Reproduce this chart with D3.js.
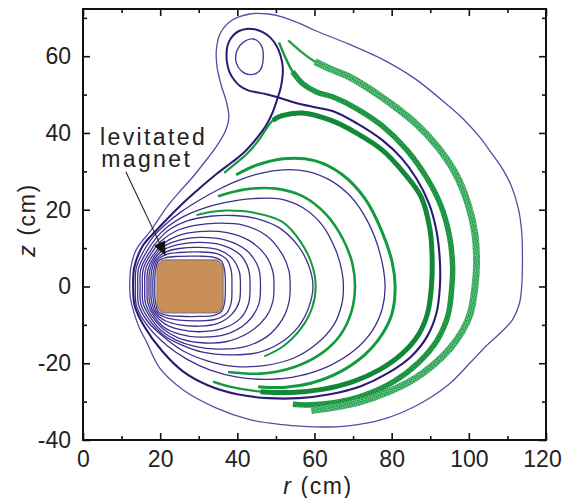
<!DOCTYPE html>
<html>
<head>
<meta charset="utf-8">
<script src="https://cdn.jsdelivr.net/npm/d3@7"></script>
<style>
  body { margin: 0; background: #fff; }
  svg { display: block; }
  text { font-family: "Liberation Sans", Arial, sans-serif; fill: #222; }
</style>
</head>
<body>
<svg id="chart" width="564" height="498"></svg>
<script>
// ---- axis ticks (cm) ----
const rMajorTicks = [0, 20, 40, 60, 80, 100, 120];
const rMinorTicks = [10, 30, 50, 70, 90, 110];
const zMajorTicks = [-40, -20, 0, 20, 40, 60];
const zMinorTicks = [-30, -10, 10, 30, 50, 70];

// ---- levitated magnet cross-section (r, z extents in cm) ----
const magnetR = [19.2, 36.3];
const magnetZ = [-6.9, 6.9];

// ---- closed flux surfaces around the magnet, [r, z] in cm ----
const surface1 = [[18.6,0],[18.75,3.8],[19.53,6.57],[21.5,7.55],[25,7.85],[30,7.9],[34,7.6],[35.9,6.6],[36.7,4.2],[36.9,0],[36.7,-4.2],[35.9,-6.5],[34,-7.5],[30,-7.8],[25,-7.75],[21.5,-7.45],[19.53,-6.57],[18.75,-3.8]];
const surface2 = [[18.1,0],[18.3,4.0],[19.25,6.85],[21.5,8.3],[25,8.85],[30,9.0],[34.5,8.6],[37.2,7.1],[38.4,4.2],[38.6,0],[38.4,-4.2],[37.2,-7.0],[34.5,-8.5],[30,-8.95],[25,-8.75],[21.5,-8.1],[19.25,-6.85],[18.3,-4.0]];
const surface3 = [[17.6,0],[17.8,4.1],[18.97,7.13],[21.5,9.0],[25,9.9],[30,10.2],[35,9.6],[38.6,7.4],[40.5,3.9],[40.8,0],[40.5,-3.9],[38.6,-7.2],[35,-9.6],[30,-10.35],[25,-10.0],[21.5,-9.0],[18.97,-7.13],[17.8,-4.1]];
const surface4 = [[17.1,0],[17.3,4.2],[18.68,7.42],[21.3,9.8],[25,11.0],[30,11.5],[36,10.8],[40.8,8.2],[42.9,4.5],[43.3,0],[42.9,-4.5],[40.8,-8.3],[36,-11.0],[30,-11.8],[25,-11.2],[21.3,-9.8],[18.68,-7.42],[17.3,-4.2]];
const surface5 = [[16.6,0],[16.8,4.3],[18.4,7.7],[21,10.5],[25,12.1],[30,12.8],[37,12.1],[42.5,9.3],[45.5,4.8],[46,0],[45.5,-4.8],[42.5,-9.4],[37,-12.5],[30,-13.2],[25,-12.4],[21,-10.6],[18.4,-7.7],[16.8,-4.3]];
const surface6 = [[16.0,0],[16.2,4.4],[18.05,8.05],[20.7,11.1],[24.5,13.2],[30,14.3],[37,14.1],[43,12.0],[47.4,8.0],[49.2,3.9],[49.5,0],[49.2,-3.9],[47.4,-8.0],[43,-12.0],[37,-14.4],[30,-14.6],[24.5,-13.3],[20.7,-11.0],[18.05,-8.05],[16.2,-4.4]];
const surface7 = [[15.4,0],[15.6,4.5],[17.62,8.48],[20.2,11.8],[24,14.4],[29,15.9],[35,16.5],[41.5,16.0],[47.5,13.3],[51.7,8.3],[53.4,4],[53.7,0],[53.4,-4],[51.7,-8.5],[47.5,-13.2],[41.5,-15.8],[35,-16.3],[29,-15.6],[24,-13.9],[20.2,-11.4],[17.69,-8.41],[15.6,-4.5]];
const surface8 = [[14.8,0],[15.0,4.6],[17.2,8.9],[19.6,12.2],[22.5,14.9],[27,17.1],[33,18.3],[39,18.5],[45,17.7],[51,15.2],[55.8,10.5],[58.6,5.2],[59.6,0],[58.6,-5.2],[55.8,-10.5],[51,-14.8],[45,-17.3],[38,-17.8],[31,-17.1],[25.5,-15.2],[21.2,-12.9],[17.27,-8.83],[15.0,-4.6]];
const surface9 = [[14.2,0],[14.4,4.7],[16.7,9.4],[19.1,12.8],[22,15.6],[26,18.2],[31,20.3],[37,21.9],[44,22.9],[51,22.8],[57,20.5],[62,16],[65.5,9.5],[67.1,4],[67.5,0],[67.1,-4.5],[65,-10],[60.5,-15],[54.5,-18.7],[47,-20.6],[39,-20.8],[32,-19.3],[26,-16.8],[21.5,-13.6],[16.85,-9.25],[14.4,-4.7]];
const surface10 = [[13.6,0],[13.8,4.8],[16.14,9.96],[18.5,13.3],[21.5,16.3],[25.5,19.5],[30,22.4],[35,25.2],[40,27.5],[46,29.5],[52,30.4],[58,30.0],[64,27.7],[69.5,23.3],[74,16.5],[77,8.5],[78.3,0],[77.5,-6],[75,-11.5],[70.5,-16.5],[64,-20.6],[56,-23.3],[48,-24.2],[40,-23.6],[33,-21.8],[27,-19.0],[22,-15.6],[16.35,-9.75],[13.8,-4.8]];
const outerSurface = [[12.1,0],[12.5,5.5],[13.8,9.6],[15.4,11.9],[17.3,14.2],[19.8,17.9],[22.5,21.7],[25.5,25.2],[28.5,28.6],[31.6,32.5],[34.6,36.5],[36.9,40.5],[37.8,44],[37.2,48],[35.8,52.5],[34.7,57.5],[34.6,62],[35.6,66],[38.5,69.3],[43.2,71],[48,71],[51.8,70.2],[56,68.6],[60.1,66.7],[68.8,63.2],[77.4,59.3],[86.1,54.1],[94.7,47.1],[99,43.2],[103,38.7],[105.9,34.7],[108.8,30.5],[111.1,26],[112.9,20],[113.7,14.2],[113.9,7],[113.7,0],[113.1,-4.5],[111.3,-8.7],[108.5,-11.8],[104.5,-15.5],[100.7,-19.5],[94.7,-25.6],[86.1,-31.2],[77.4,-34.7],[68.8,-36.3],[60.1,-36.6],[51.8,-36],[43.2,-34.7],[34.6,-31.7],[25.9,-26.9],[19.9,-21.3],[16.4,-14.3],[14.6,-10.8],[13.1,-6.5],[12.3,-3]];

// ---- separatrix (X-point at r=50.5, z=49.3) and levitation-coil surfaces ----
const separatrixOuter = [[50.5,49.3],[55,47.9],[60.1,46.7],[65,45.6],[71,42.5],[77.5,38.2],[82.5,33.5],[86.5,28],[89.7,21.5],[91.7,14],[92.5,6.5],[92.5,0],[91.6,-7],[89.2,-13],[85,-18.3],[79,-22.6],[72,-26],[64,-28.1],[56,-29.1],[48,-29.1],[40,-28.1],[32.5,-25.8],[25.9,-22.1],[20.5,-16.8],[15.82,-10.28],[13.4,-5],[13.0,0],[13.3,5],[15.5,10.6],[18.6,14.2],[22,17.8],[25.9,21.7],[30,25.4],[34.6,29.3],[38.5,32.3],[41.5,34.7],[45,38.6],[47.6,42.2],[49.2,45.5],[50.5,49.3]];
const separatrixLoop = [[50.5,49.3],[51.3,52],[51.8,56.7],[51.2,60.2],[50.1,62.8],[48.5,64.9],[46.7,66.2],[44.5,67.0],[42.3,67.1],[40.3,66.5],[38.9,65.4],[37.7,63.5],[37.3,61.9],[37.3,58.5],[38,55.8],[39.2,53.8],[40.6,52.3],[42.8,51.1],[44.9,50.6],[47.5,50.1],[50.5,49.3]];
const coilSurface = [[39.7,58.4],[39.9,61.5],[41.5,63.6],[44.1,64.5],[46.2,62.8],[46.7,59.3],[45.8,56.2],[43.2,55.2],[41.0,56.2]];

// ---- particle orbit traces, [r, z] in cm ----
const orbit1 = [[29.4,18.6],[33,19.4],[37,19.8],[44,19.3],[51.6,16.9],[56.5,11.5],[59.4,5.5],[60.3,0],[59.4,-5.5],[56.6,-10.8],[52,-15.5],[47,-18.2]];
const orbit2 = [[35,23.5],[42,25.3],[50,25.5],[57,23.5],[63,18.8],[67.3,12.5],[69.8,6],[70.5,0],[69.6,-6.5],[66.8,-12.5],[62,-17.3],[55,-20.9],[46,-22.7],[37.6,-22.3]];
const orbit3 = [[39.7,29.1],[45,31.6],[52,33.3],[60,32.8],[67,29.3],[73,23],[77.4,14.5],[80.2,6],[80.9,0],[80.1,-7],[77.5,-12.5],[73,-17.8],[66.5,-22.3],[59,-25.2],[52,-26.3],[45.4,-26.1]];
const orbit4 = [[36.6,29.6],[39.5,32.0],[42.5,34.6],[45.3,37.8],[47.3,40.8],[49.2,43.3],[51.6,44.5],[56.8,45.2],[64.5,43.2],[71,39.9],[77.5,35.6],[83,29.8],[87.6,23.4],[89.9,15],[90.5,7],[90.3,0],[89.3,-7],[86.8,-12.8],[82.5,-17.7],[77,-21.6],[70,-24.8],[62,-26.8],[54,-27.6],[46,-27.4],[38,-26.1],[33.7,-24.8]];
const orbit5 = [[50.8,63.6],[52.3,60],[54.3,56],[57,52.8],[60.5,50.7],[65,49.3],[71,46.3],[77.5,41.9],[84,35.5],[89,28.5],[92.8,21],[95,13],[95.8,5],[95.6,0],[94.6,-7.5],[91.8,-14],[87,-19.8],[80.5,-24.8],[73,-28.3],[65,-30.3],[58,-30.9],[54.4,-30.7]];
const orbit6 = [[53.2,64.1],[56.5,61.2],[60.1,58.6],[64.5,56.5],[68.9,54.7],[77.5,49.3],[86.1,42.6],[91.8,36.5],[96.5,29.5],[99.8,21.5],[101.6,13.5],[102,6],[101.6,0],[100.4,-7],[98.4,-11.5],[95,-16.3],[90.5,-20.7],[85.5,-24.3],[79,-27.5],[72,-30],[65,-31.5],[59.2,-32.3]];

// ---- annotation ----
const labelLines = ["levitated", "magnet"];
const labelPos = [[4.4, 36.9], [4.7, 31.2]];
const arrowFrom = [11.1, 29.9];
const arrowTo = [21.4, 8.0];

// ================= drawing =================
const frameL = 83, frameR = 546, frameT = 9, frameB = 440;
const x = d3.scaleLinear().domain([0, 120]).range([frameL, frameR]);
const y = d3.scaleLinear().domain([-40, 72.3]).range([frameB, frameT]);

const svg = d3.select("#chart");
const defs = svg.append("defs");
defs.append("clipPath").attr("id", "plotClip")
  .append("rect").attr("x", frameL).attr("y", frameT)
  .attr("width", frameR - frameL).attr("height", frameB - frameT);

// braided texture for the drifting orbit bands
function braid(id, bg, fg, size, width) {
  const p = defs.append("pattern").attr("id", id)
    .attr("patternUnits", "userSpaceOnUse")
    .attr("width", size).attr("height", size)
    .attr("patternTransform", "rotate(30)");
  p.append("rect").attr("width", size).attr("height", size).attr("fill", bg);
  p.append("path").attr("d", `M0,0L${size},${size}M${size},0L0,${size}`)
    .attr("stroke", fg).attr("stroke-width", width).attr("fill", "none");
}
braid("braid4", "#24a047", "#0a7f31", 2.6, 1.0);
braid("braid5", "#3aab58", "#0b8735", 3, 1.0);
braid("braid6", "#79c88d", "#17994a", 3, 0.9);

const closedPath = d3.line().x(d => x(d[0])).y(d => y(d[1]))
  .curve(d3.curveCatmullRomClosed.alpha(0.5));
const openPath = d3.line().x(d => x(d[0])).y(d => y(d[1]))
  .curve(d3.curveCatmullRom.alpha(0.5));

const plot = svg.append("g").attr("clip-path", "url(#plotClip)");

// flux surfaces
const innerSurfaces = [surface1, surface2, surface3, surface4, surface5,
  surface6, surface7, surface8, surface9, surface10];
plot.append("g").selectAll("path").data(innerSurfaces).join("path")
  .attr("d", closedPath).attr("fill", "none")
  .attr("stroke", "#3f2f8f").attr("stroke-width", 1.3);

plot.append("path").attr("d", closedPath(outerSurface)).attr("fill", "none")
  .attr("stroke", "#5a4aa3").attr("stroke-width", 1.3);
plot.append("path").attr("d", closedPath(coilSurface)).attr("fill", "none")
  .attr("stroke", "#4c3d98").attr("stroke-width", 1.4);
plot.append("path").attr("d", openPath(separatrixLoop)).attr("fill", "none")
  .attr("stroke", "#2b1a74").attr("stroke-width", 2);
plot.append("path").attr("d", openPath(separatrixOuter)).attr("fill", "none")
  .attr("stroke", "#2b1a74").attr("stroke-width", 2.1);

// orbit traces
const green = "#139a3f";
[[orbit1, 2.0], [orbit2, 2.6], [orbit3, 3.0]].forEach(([pts, w]) => {
  plot.append("path").attr("d", openPath(pts)).attr("fill", "none")
    .attr("stroke", green).attr("stroke-width", w).attr("stroke-linecap", "butt");
});
// orbit 4: thin where it hugs the separatrix leg, thick band afterwards
plot.append("path").attr("d", openPath(orbit4)).attr("fill", "none")
  .attr("stroke", green).attr("stroke-width", 2.2);
plot.append("path").attr("d", openPath(orbit4.slice(5, orbit4.length - 2))).attr("fill", "none")
  .attr("stroke", "url(#braid4)").attr("stroke-width", 5);
// orbits 5 and 6: thin at their start, braided band further along
plot.append("path").attr("d", openPath(orbit5)).attr("fill", "none")
  .attr("stroke", green).attr("stroke-width", 2.4);
plot.append("path").attr("d", openPath(orbit5.slice(2))).attr("fill", "none")
  .attr("stroke", "url(#braid5)").attr("stroke-width", 5.5);
plot.append("path").attr("d", openPath(orbit6)).attr("fill", "none")
  .attr("stroke", "#24a04c").attr("stroke-width", 2.4);
plot.append("path").attr("d", openPath(orbit6.slice(2))).attr("fill", "none")
  .attr("stroke", "url(#braid6)").attr("stroke-width", 7);

// magnet
plot.append("rect")
  .attr("x", x(magnetR[0])).attr("y", y(magnetZ[1]))
  .attr("width", x(magnetR[1]) - x(magnetR[0]))
  .attr("height", y(magnetZ[0]) - y(magnetZ[1]))
  .attr("rx", 9).attr("ry", 9)
  .attr("fill", "#c98f58").attr("stroke", "#8c7d70").attr("stroke-width", 1.3);

// annotation arrow
{
  const sx = x(arrowFrom[0]), sy = y(arrowFrom[1]);
  const tx = x(arrowTo[0]), ty = y(arrowTo[1]);
  const len = Math.hypot(tx - sx, ty - sy);
  const ux = (tx - sx) / len, uy = (ty - sy) / len;
  const hl = 14, hw = 6;
  const bx = tx - hl * ux, by = ty - hl * uy;
  svg.append("line").attr("x1", sx).attr("y1", sy).attr("x2", bx).attr("y2", by)
    .attr("stroke", "#222").attr("stroke-width", 1.1);
  svg.append("path")
    .attr("d", `M${tx},${ty}L${bx - hw * uy},${by + hw * ux}L${bx + hw * uy},${by - hw * ux}Z`)
    .attr("fill", "#111");
}
svg.append("g").selectAll("text").data(labelLines).join("text")
  .attr("x", (d, i) => x(labelPos[i][0])).attr("y", (d, i) => y(labelPos[i][1]))
  .attr("font-size", 23).attr("letter-spacing", "2.4px")
  .text(d => d);

// axes: inward ticks on all four sides
const major = 7, minor = 4;
const axes = svg.append("g");
function styleAxis(g) {
  g.select(".domain").remove();
  g.selectAll(".tick line").attr("stroke", "#111").attr("stroke-width", 1.6);
  g.selectAll("text").attr("font-size", 23).attr("fill", "#222")
    .attr("font-family", "'Liberation Sans', Arial, sans-serif");
}
const rAxis = axes.append("g").attr("transform", `translate(0,${frameB})`)
  .call(d3.axisBottom(x).tickValues(rMajorTicks).tickSize(-major).tickPadding(11).tickFormat(d3.format("d")))
  .call(styleAxis);
// the last label sits a little inside the page edge
rAxis.selectAll(".tick text").filter(d => d === 120).attr("dx", -4);
axes.append("g").attr("transform", `translate(0,${frameB})`)
  .call(d3.axisBottom(x).tickValues(rMinorTicks).tickSize(-minor).tickFormat(""))
  .call(styleAxis);
axes.append("g").attr("transform", `translate(0,${frameT})`)
  .call(d3.axisTop(x).tickValues(rMajorTicks).tickSize(-major).tickFormat(""))
  .call(styleAxis);
axes.append("g").attr("transform", `translate(0,${frameT})`)
  .call(d3.axisTop(x).tickValues(rMinorTicks).tickSize(-minor).tickFormat(""))
  .call(styleAxis);
axes.append("g").attr("transform", `translate(${frameL},0)`)
  .call(d3.axisLeft(y).tickValues(zMajorTicks).tickSize(-major).tickPadding(12).tickFormat(d3.format("d")))
  .call(styleAxis);
axes.append("g").attr("transform", `translate(${frameL},0)`)
  .call(d3.axisLeft(y).tickValues(zMinorTicks).tickSize(-minor).tickFormat(""))
  .call(styleAxis);
axes.append("g").attr("transform", `translate(${frameR},0)`)
  .call(d3.axisRight(y).tickValues(zMajorTicks).tickSize(-major).tickFormat(""))
  .call(styleAxis);
axes.append("g").attr("transform", `translate(${frameR},0)`)
  .call(d3.axisRight(y).tickValues(zMinorTicks).tickSize(-minor).tickFormat(""))
  .call(styleAxis);
// minus sign drawn as a plain hyphen
axes.selectAll("text").text(function () { return this.textContent.replace("\u2212", "-"); });

svg.append("rect").attr("x", frameL).attr("y", frameT)
  .attr("width", frameR - frameL).attr("height", frameB - frameT)
  .attr("fill", "none").attr("stroke", "#111").attr("stroke-width", 2);

// axis titles
const rTitle = svg.append("text").attr("x", 318).attr("y", 494)
  .attr("text-anchor", "middle").attr("font-size", 23).attr("letter-spacing", "1.6px");
rTitle.append("tspan").attr("font-style", "italic").text("r");
rTitle.append("tspan").text(" (cm)");
const zTitle = svg.append("text").attr("transform", "translate(35,220) rotate(-90)")
  .attr("text-anchor", "middle").attr("font-size", 23).attr("letter-spacing", "1.6px");
zTitle.append("tspan").attr("font-style", "italic").text("z");
zTitle.append("tspan").text(" (cm)");
</script>
</body>
</html>
